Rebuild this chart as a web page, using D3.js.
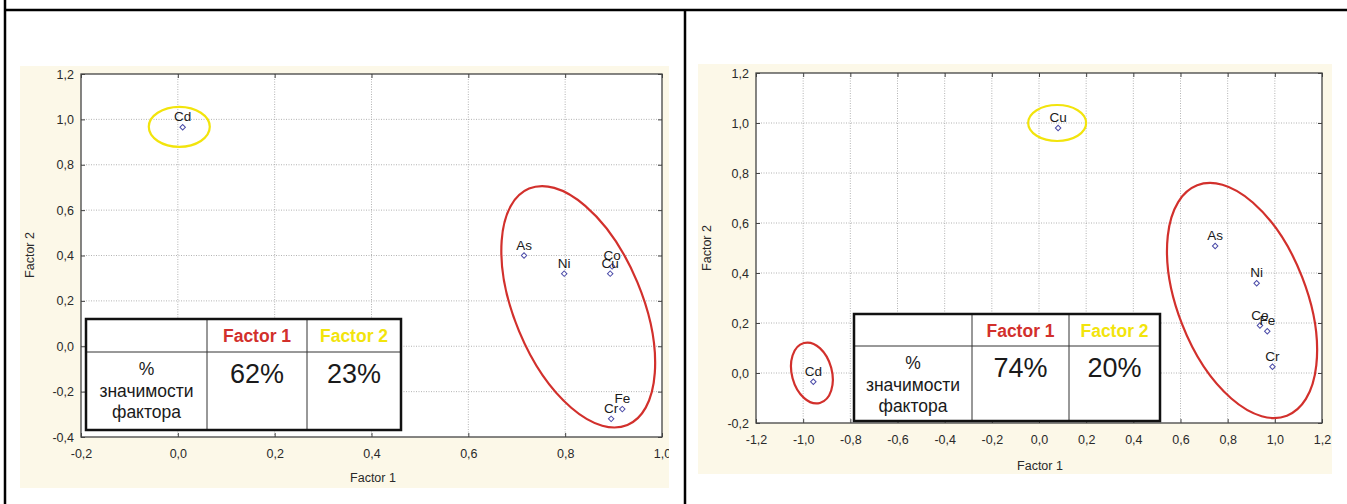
<!DOCTYPE html>
<html>
<head>
<meta charset="utf-8">
<script src="https://cdn.jsdelivr.net/npm/d3@7/dist/d3.min.js"></script>
<style>
body{margin:0;background:#fff;}
svg{display:block;font-family:Arial,"Liberation Sans",sans-serif;}
</style>
</head>
<body>
<svg id="chart" width="1347" height="504"></svg>
<script>
// left plot
const leftElements = ["Cd","As","Ni","Co","Cu","Fe","Cr"];
const leftFactor1 = [0.01,0.715,0.798,0.897,0.893,0.918,0.895];
const leftFactor2 = [0.965,0.40,0.32,0.352,0.32,-0.277,-0.32];
const leftXTicks = [-0.2,0,0.2,0.4,0.6,0.8,1.0];
const leftYTicks = [-0.4,-0.2,0,0.2,0.4,0.6,0.8,1.0,1.2];
const leftShare = ["62%","23%"];

// right plot
const rightElements = ["Cu","Cd","As","Ni","Co","Fe","Cr"];
const rightFactor1 = [0.081,-0.957,0.747,0.923,0.937,0.968,0.99];
const rightFactor2 = [0.98,-0.035,0.508,0.359,0.19,0.167,0.025];
const rightXTicks = [-1.2,-1.0,-0.8,-0.6,-0.4,-0.2,0,0.2,0.4,0.6,0.8,1.0,1.2];
const rightYTicks = [-0.2,0,0.2,0.4,0.6,0.8,1.0,1.2];
const rightShare = ["74%","20%"];

const tableHead = ["Factor 1","Factor 2"];
const rowLabel = ["%","значимости","фактора"];

const RED = "#d2302c";
const YELLOW = "#f2e40c";

const svg = d3.select("#chart");
const fmt = v => d3.format(".1f")(v).replace(".",",").replace("\u2212","-");

// outer table frame
svg.append("line").attr("x1",4).attr("x2",1347).attr("y1",10).attr("y2",10)
    .attr("stroke","#000").attr("stroke-width",2.5);
svg.append("line").attr("x1",5).attr("x2",5).attr("y1",0).attr("y2",504)
    .attr("stroke","#000").attr("stroke-width",2.5);
svg.append("line").attr("x1",685).attr("x2",685).attr("y1",10).attr("y2",504)
    .attr("stroke","#000").attr("stroke-width",2.5);

function drawPanel(cfg){
    const g = svg.append("g");
    const clipId = "clip"+cfg.id;
    g.append("clipPath").attr("id",clipId).append("rect")
        .attr("x",cfg.panel[0]).attr("y",cfg.panel[1]).attr("width",cfg.panel[2]).attr("height",cfg.panel[3]);
    const p = g.append("g").attr("clip-path","url(#"+clipId+")");
    p.append("rect").attr("x",cfg.panel[0]).attr("y",cfg.panel[1]).attr("width",cfg.panel[2]).attr("height",cfg.panel[3])
        .attr("fill","#fcf8e8");

    const x = d3.scaleLinear().domain(cfg.xDomain).range([cfg.plot.left,cfg.plot.right]);
    const y = d3.scaleLinear().domain(cfg.yDomain).range([cfg.plot.bottom,cfg.plot.top]);
    const w = cfg.plot.right-cfg.plot.left, h = cfg.plot.bottom-cfg.plot.top;

    p.append("rect").attr("x",cfg.plot.left).attr("y",cfg.plot.top).attr("width",w).attr("height",h).attr("fill","#fff");

    // grid
    const grid = p.append("g").attr("stroke","#a0a0a0").attr("stroke-width",0.8).attr("stroke-dasharray","1,1.5");
    grid.selectAll(".gx").data(cfg.xTicks.slice(1,-1)).enter().append("line")
        .attr("x1",d=>x(d)).attr("x2",d=>x(d)).attr("y1",cfg.plot.top).attr("y2",cfg.plot.bottom);
    grid.selectAll(".gy").data(cfg.yTicks.slice(1,-1)).enter().append("line")
        .attr("y1",d=>y(d)).attr("y2",d=>y(d)).attr("x1",cfg.plot.left).attr("x2",cfg.plot.right);

    // inward ticks on every side
    const tickStyle = sel => { sel.select(".domain").remove(); sel.selectAll("line").attr("stroke","#444"); sel.selectAll("text").remove(); };
    p.append("g").attr("transform","translate(0,"+cfg.plot.bottom+")").call(d3.axisBottom(x).tickValues(cfg.xTicks).tickSize(-4)).call(tickStyle);
    p.append("g").attr("transform","translate(0,"+cfg.plot.top+")").call(d3.axisTop(x).tickValues(cfg.xTicks).tickSize(-4)).call(tickStyle);
    p.append("g").attr("transform","translate("+cfg.plot.left+",0)").call(d3.axisLeft(y).tickValues(cfg.yTicks).tickSize(-4)).call(tickStyle);
    p.append("g").attr("transform","translate("+cfg.plot.right+",0)").call(d3.axisRight(y).tickValues(cfg.yTicks).tickSize(-4)).call(tickStyle);

    // tick labels
    const lab = sel => { sel.select(".domain").remove(); sel.selectAll("line").remove();
        sel.selectAll("text").attr("fill","#2a2a2a").attr("font-size",12.5).attr("font-family","Arial,'Liberation Sans',sans-serif"); };
    p.append("g").attr("transform","translate(0,"+cfg.plot.bottom+")")
        .call(d3.axisBottom(x).tickValues(cfg.xTicks).tickFormat(fmt).tickSize(0).tickPadding(cfg.xPad)).call(lab);
    p.append("g").attr("transform","translate("+cfg.plot.left+",0)")
        .call(d3.axisLeft(y).tickValues(cfg.yTicks).tickFormat(fmt).tickSize(0).tickPadding(7)).call(lab);

    p.append("rect").attr("x",cfg.plot.left).attr("y",cfg.plot.top).attr("width",w).attr("height",h)
        .attr("fill","none").attr("stroke","#444").attr("stroke-width",1.3);

    // axis titles
    p.append("text").attr("x",cfg.xTitle[0]).attr("y",cfg.xTitle[1]).attr("text-anchor","middle")
        .attr("font-size",12.5).attr("fill","#2a2a2a").text("Factor 1");
    p.append("text").attr("transform","translate("+cfg.yTitle[0]+","+cfg.yTitle[1]+") rotate(-90)").attr("text-anchor","middle")
        .attr("font-size",12.5).attr("fill","#2a2a2a").text("Factor 2");

    // points
    const pts = cfg.names.map((n,i)=>({name:n,f1:cfg.f1[i],f2:cfg.f2[i]}));
    const diamond = d3.symbol().type(d3.symbolSquare).size(15);
    p.selectAll(".pt").data(pts).enter().append("path")
        .attr("d",diamond)
        .attr("transform",d=>"translate("+x(d.f1)+","+y(d.f2)+") rotate(45)")
        .attr("fill","#fff").attr("stroke","#4b4ba8").attr("stroke-width",1);
    p.selectAll(".lb").data(pts).enter().append("text")
        .attr("x",d=>x(d.f1)).attr("y",d=>y(d.f2)-6).attr("text-anchor","middle")
        .attr("font-size",13.5).attr("fill","#1a1a1a").text(d=>d.name);

    // group ellipses
    cfg.rings.forEach(r => {
        p.append("ellipse").attr("cx",0).attr("cy",0).attr("rx",r.rx).attr("ry",r.ry)
            .attr("transform","translate("+x(r.cx)+","+y(r.cy)+") rotate("+r.rot+")")
            .attr("fill","none").attr("stroke",r.color).attr("stroke-width",2.2);
    });

    // share table
    const t = cfg.table;
    const tg = p.append("g");
    tg.append("rect").attr("x",t.x0).attr("y",t.y0).attr("width",t.x1-t.x0).attr("height",t.y1-t.y0).attr("fill","#fff");
    tg.selectAll(".cl").data(t.cols).enter().append("line")
        .attr("x1",d=>d).attr("x2",d=>d).attr("y1",t.y0).attr("y2",t.y1).attr("stroke","#333").attr("stroke-width",1);
    tg.append("line").attr("x1",t.x0).attr("x2",t.x1).attr("y1",t.row).attr("y2",t.row).attr("stroke","#333").attr("stroke-width",1);
    tg.append("rect").attr("x",t.x0).attr("y",t.y0).attr("width",t.x1-t.x0).attr("height",t.y1-t.y0)
        .attr("fill","none").attr("stroke","#111").attr("stroke-width",2.5);
    const centers = [(t.cols[0]+t.cols[1])/2,(t.cols[1]+t.x1)/2];
    tableHead.forEach((hd,i)=>{
        tg.append("text").attr("x",centers[i]).attr("y",t.y0+23).attr("text-anchor","middle")
            .attr("font-size",17.5).attr("font-weight","bold").attr("fill",i===0?RED:YELLOW).text(hd);
        tg.append("text").attr("x",centers[i]).attr("y",t.row+31).attr("text-anchor","middle")
            .attr("font-size",27).attr("fill","#1a1a1a").text(cfg.share[i]);
    });
    rowLabel.forEach((s,i)=>{
        tg.append("text").attr("x",(t.x0+t.cols[0])/2).attr("y",t.row+23+i*21.5).attr("text-anchor","middle")
            .attr("font-size",17.5).attr("fill","#1a1a1a").text(s);
    });
}

drawPanel({
    id:"L",
    panel:[20,66,649,422],
    plot:{left:81,right:662,top:74,bottom:437},
    xDomain:[-0.2,1.0], yDomain:[-0.4,1.2],
    xTicks:leftXTicks, yTicks:leftYTicks, xPad:12,
    xTitle:[373,482], yTitle:[34,255],
    names:leftElements, f1:leftFactor1, f2:leftFactor2,
    rings:[
        {cx:0.003,cy:0.967,rx:30.5,ry:20,rot:0,color:YELLOW},
        {cx:0.827,cy:0.174,rx:64,ry:128,rot:-22.6,color:RED}
    ],
    table:{x0:86,x1:401,y0:319,y1:430,cols:[207,307],row:352},
    share:leftShare
});

drawPanel({
    id:"R",
    panel:[698,64,634,410],
    plot:{left:756,right:1322,top:73,bottom:423},
    xDomain:[-1.2,1.2], yDomain:[-0.2,1.2],
    xTicks:rightXTicks, yTicks:rightYTicks, xPad:12,
    xTitle:[1040,470], yTitle:[711,248],
    names:rightElements, f1:rightFactor1, f2:rightFactor2,
    rings:[
        {cx:0.077,cy:1.0,rx:29,ry:18,rot:0,color:YELLOW},
        {cx:-0.963,cy:0.0,rx:20,ry:31,rot:-15,color:RED},
        {cx:0.861,cy:0.29,rx:64.5,ry:123.6,rot:-21.3,color:RED}
    ],
    table:{x0:854,x1:1160,y0:314,y1:421,cols:[972,1069],row:346},
    share:rightShare
});
</script>
</body>
</html>
